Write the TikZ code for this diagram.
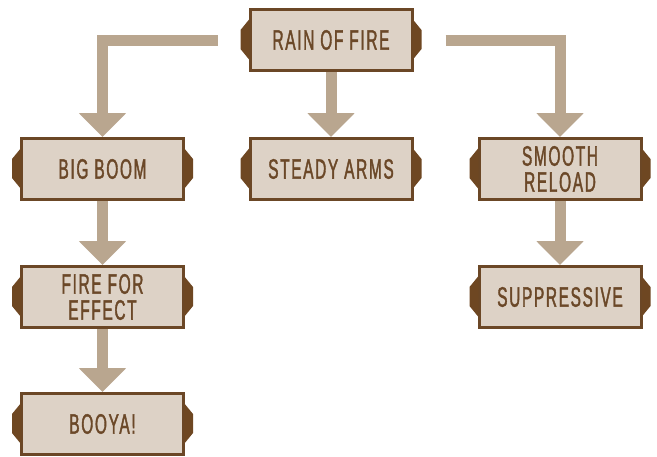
\documentclass[tikz,border=0pt]{standalone}
\usepackage{fontspec}
\usetikzlibrary{arrows.meta,calc}
\newfontfamily\labelfont[FakeStretch=0.55,FakeBold=1.4,LetterSpace=6]{Liberation Sans}
\definecolor{plate}{HTML}{DDD2C6}
\definecolor{rim}{HTML}{6B4726}
\definecolor{tabbrown}{HTML}{6E4722}
\definecolor{ink}{HTML}{6B4828}
\definecolor{beam}{HTML}{B9A68F}
\tikzset{
  plaque/.style={draw=rim, line width=3pt, fill=plate,
    minimum width=162pt, minimum height=61pt, inner sep=0pt,
    align=center, text=ink,
    font=\labelfont\fontsize{28}{26}\selectfont},
  conn/.style={draw=beam, line width=11pt, line join=miter,
    -{Triangle[width=46pt,length=24pt]}},
}
% side tabs of a plaque
\newcommand\sidetabs[1]{%
  \fill[tabbrown] ($(#1.west)+(1,-21)$) -- ++(-9,11) -- ++(0,19) -- ++(9,11) -- cycle;
  \fill[tabbrown] ($(#1.east)+(-1,-21)$) -- ++(9,11) -- ++(0,19) -- ++(-9,11) -- cycle;
}
\begin{document}
\begin{tikzpicture}[x=1pt,y=-1pt]
\useasboundingbox (0,0) rectangle (657,456);

\node[plaque] (rain)   at (331,40)    {RAIN OF FIRE};
\node[plaque] (boom)   at (102.5,169) {BIG BOOM};
\node[plaque] (steady) at (331,169)   {STEADY ARMS};
\node[plaque] (smooth) at (560,169)   {SMOOTH\\RELOAD};
\node[plaque] (effect) at (102.5,297) {FIRE FOR\\EFFECT};
\node[plaque] (booya)  at (102.5,424) {BOOYA!};
\node[plaque] (supp)   at (560,297)   {SUPPRESSIVE};

\foreach \n in {rain,boom,steady,smooth,effect,booya,supp}{\sidetabs{\n}}

\draw[conn] ($(rain.west)+(-31,0)$) -| (boom.north);
\draw[conn] ($(rain.east)+(32,0)$) -| (smooth.north);
\draw[conn] (rain.south) -- (steady.north);
\draw[conn] (boom.south) -- (effect.north);
\draw[conn] (effect.south) -- (booya.north);
\draw[conn] (smooth.south) -- (supp.north);
\end{tikzpicture}
\end{document}
